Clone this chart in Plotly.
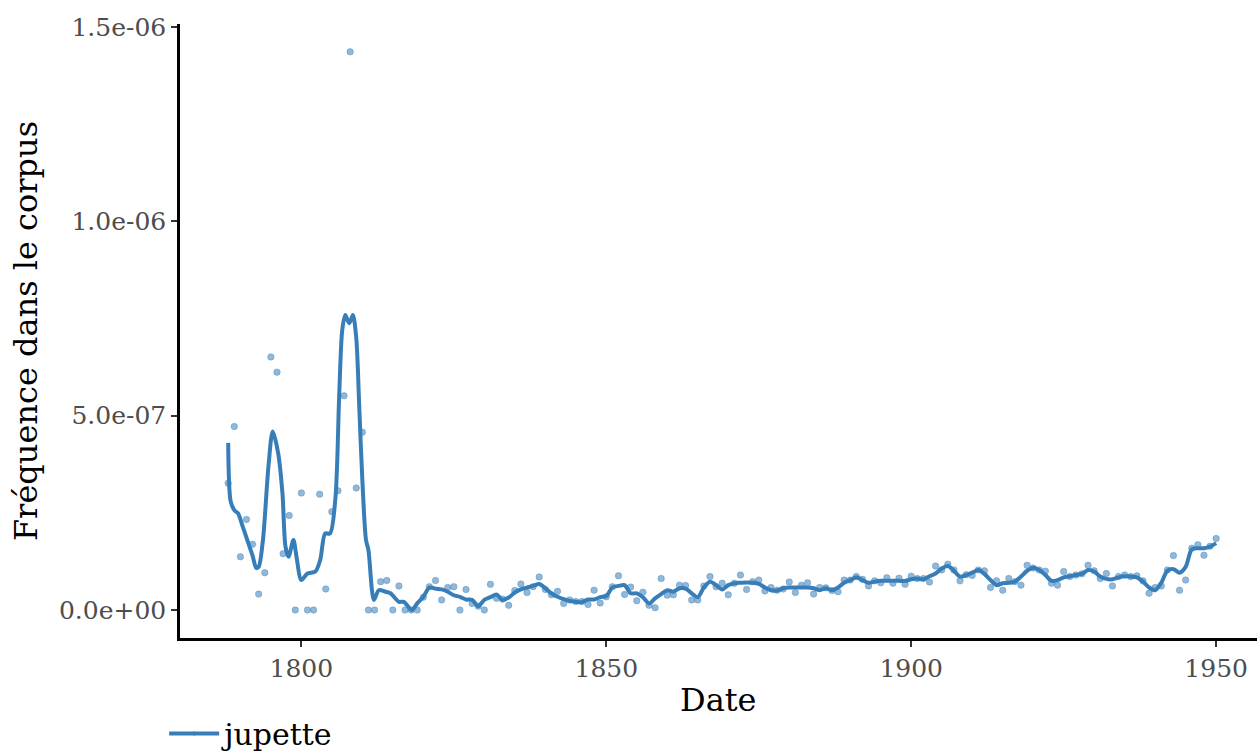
import plotly.graph_objects as go

# ---- data ----
years = list(range(1788, 1951))
freq_e7 = [
    3.26, 4.72, 1.37, 2.33, 1.69, 0.41, 0.96, 6.51, 6.12, 1.45,  # 1788-1797
    2.43, 0.00, 3.01, 0.00, 0.00, 2.98, 0.54, 2.53, 3.07, 5.51,  # 1798-1807
    14.36, 3.14, 4.57, 0.00, 0.00, 0.73, 0.76, 0.00, 0.62, 0.00,  # 1808-1817
    0.00, 0.00, 0.33, 0.60, 0.76, 0.26, 0.58, 0.60, 0.00, 0.53,  # 1818-1827
    0.17, 0.10, 0.00, 0.66, 0.30, 0.28, 0.12, 0.50, 0.67, 0.45,  # 1828-1837
    0.60, 0.85, 0.53, 0.39, 0.48, 0.17, 0.26, 0.22, 0.22, 0.14,  # 1838-1847
    0.51, 0.18, 0.34, 0.60, 0.88, 0.40, 0.59, 0.24, 0.46, 0.12,  # 1848-1857
    0.06, 0.81, 0.38, 0.39, 0.64, 0.63, 0.26, 0.26, 0.62, 0.86,  # 1858-1867
    0.60, 0.69, 0.39, 0.69, 0.90, 0.53, 0.73, 0.77, 0.49, 0.58,  # 1868-1877
    0.51, 0.54, 0.72, 0.45, 0.64, 0.70, 0.41, 0.58, 0.57, 0.50,  # 1878-1887
    0.47, 0.77, 0.77, 0.86, 0.79, 0.62, 0.75, 0.70, 0.83, 0.69,  # 1888-1897
    0.82, 0.66, 0.87, 0.81, 0.81, 0.72, 1.13, 1.03, 1.18, 1.03,  # 1898-1907
    0.75, 0.91, 0.89, 1.03, 1.01, 0.58, 0.75, 0.51, 0.81, 0.73,  # 1908-1917
    0.64, 1.15, 1.08, 1.03, 1.00, 0.69, 0.64, 0.99, 0.86, 0.90,  # 1918-1927
    0.93, 1.15, 1.01, 0.81, 0.94, 0.62, 0.86, 0.90, 0.86, 0.88,  # 1928-1937
    0.75, 0.43, 0.58, 0.62, 1.03, 1.40, 0.51, 0.77, 1.59, 1.68,  # 1938-1947
    1.41, 1.64, 1.84,                                              # 1948-1950
]

smooth_years = [
    1788.0, 1788.4, 1789.0, 1789.6, 1790.4, 1791.3, 1792.0, 1792.6, 1793.0,
    1793.7, 1794.6, 1795.3, 1796.2, 1796.9, 1797.4, 1797.9, 1798.7, 1799.2,
    1800.0, 1801.0, 1802.3, 1803.1, 1803.9, 1804.7, 1805.6, 1806.2, 1806.7,
    1807.2, 1807.85, 1808.45, 1809.0, 1809.5, 1810.0, 1810.6, 1811.0, 1811.9,
    1812.7, 1813.8, 1814.6, 1816.0, 1816.8, 1818.1, 1819.0,
] + list(range(1820, 1951))
smooth_e7 = [
    4.30, 2.80, 2.57, 2.49, 2.14, 1.72, 1.40, 1.08, 1.11,
    1.80, 3.69, 4.59, 4.03, 3.00, 1.63, 1.37, 1.80, 1.37,
    0.77, 0.94, 0.99, 1.29, 1.97, 1.97, 2.91, 5.50, 7.20,
    7.59, 7.38, 7.59, 7.00, 5.20, 3.34, 1.80, 1.54, 0.26,
    0.51, 0.47, 0.43, 0.21, 0.21, 0.00, 0.17,
    # 1820-1829
    0.34, 0.58, 0.55, 0.53, 0.47, 0.38, 0.34, 0.27, 0.26, 0.10,
    # 1830-1839
    0.26, 0.33, 0.40, 0.26, 0.32, 0.45, 0.53, 0.58, 0.62, 0.67,
    # 1840-1849
    0.56, 0.43, 0.34, 0.28, 0.23, 0.21, 0.20, 0.27, 0.27, 0.33,
    # 1850-1859
    0.36, 0.58, 0.62, 0.64, 0.43, 0.43, 0.33, 0.17, 0.30, 0.41,
    # 1860-1869
    0.51, 0.47, 0.56, 0.55, 0.43, 0.33, 0.58, 0.73, 0.64, 0.53,
    # 1870-1879
    0.64, 0.69, 0.70, 0.71, 0.70, 0.67, 0.58, 0.51, 0.50, 0.56,
    # 1880-1889
    0.58, 0.58, 0.58, 0.58, 0.56, 0.51, 0.56, 0.51, 0.58, 0.70,
    # 1890-1899
    0.77, 0.84, 0.77, 0.70, 0.73, 0.75, 0.75, 0.75, 0.75, 0.75,
    # 1900-1909
    0.79, 0.81, 0.79, 0.87, 0.94, 1.07, 1.13, 1.01, 0.86, 0.90,
    # 1910-1919
    0.96, 1.03, 0.93, 0.77, 0.64, 0.69, 0.70, 0.73, 0.86, 1.01,
    # 1920-1929
    1.09, 1.03, 0.90, 0.75, 0.77, 0.84, 0.87, 0.90, 0.93, 1.03,
    # 1930-1939
    0.99, 0.86, 0.80, 0.79, 0.84, 0.87, 0.86, 0.84, 0.73, 0.58,
    # 1940-1950
    0.51, 0.70, 1.01, 1.05, 0.96, 1.11, 1.56, 1.59, 1.59, 1.63, 1.72,
]

y_tickvals = [0.0, 5e-7, 1e-6, 1.5e-6]
y_ticktext = ["0.0e+00", "5.0e-07", "1.0e-06", "1.5e-06"]
x_tickvals = [1800, 1850, 1900, 1950]
series_name = "jupette"
x_title = "Date"
y_title = "Fréquence dans le corpus"

COLOR = "#377EB8"
FONT = "DejaVu Serif"

freq = [v * 1e-7 for v in freq_e7]
smooth = [v * 1e-7 for v in smooth_e7]

fig = go.Figure()
fig.add_trace(go.Scatter(
    x=years, y=freq, mode="markers",
    marker=dict(size=6.5, color="rgba(55,126,184,0.55)",
                line=dict(width=1, color="rgba(55,126,184,0.35)")),
    showlegend=False, hoverinfo="x+y",
))
fig.add_trace(go.Scatter(
    x=smooth_years, y=smooth, mode="lines",
    line=dict(color=COLOR, width=4, shape="spline", smoothing=0.8),
    showlegend=False,
))
fig.add_trace(go.Scatter(
    x=[None], y=[None], mode="lines+markers", name=series_name,
    line=dict(color=COLOR, width=4),
    marker=dict(color=COLOR, size=4),
))

fig.update_layout(
    width=1258, height=753,
    margin=dict(l=180, r=1, t=24, b=115, autoexpand=False),
    paper_bgcolor="white", plot_bgcolor="white",
    font=dict(family=FONT, color="black"),
    showlegend=True,
    legend=dict(orientation="h", xref="container", yref="container",
                x=0.1305, xanchor="left", y=0.026, yanchor="middle",
                itemwidth=50,
                font=dict(family=FONT, size=30, color="black"),
                bgcolor="rgba(0,0,0,0)"),
    annotations=[dict(text=x_title, xref="paper", yref="paper",
                      x=0.5, y=-0.101, xanchor="center", yanchor="middle",
                      showarrow=False,
                      font=dict(family=FONT, size=32, color="black"))],
)
fig.update_xaxes(
    range=[1780.1, 1956.7], tickvals=x_tickvals, automargin=False,
    showgrid=False, zeroline=False,
    showline=True, linecolor="black", linewidth=2.5,
    ticks="outside", ticklen=6, tickwidth=2, tickcolor="#333333",
    tickfont=dict(family=FONT, size=25, color="#4d4d4d"),
)
fig.update_yaxes(
    range=[-0.072e-6, 1.5076e-6], tickvals=y_tickvals, ticktext=y_ticktext, automargin=False,
    showgrid=False, zeroline=False,
    showline=True, linecolor="black", linewidth=2.5,
    ticks="outside", ticklen=6, tickwidth=2, tickcolor="#333333",
    tickfont=dict(family=FONT, size=25, color="#4d4d4d"),
    title=dict(text=y_title, font=dict(family=FONT, size=32, color="black"), standoff=12),
)

fig.write_html("out.html", config={"displayModeBar": False},
               post_script="document.body.style.margin='0px';document.body.style.overflow='hidden';")
